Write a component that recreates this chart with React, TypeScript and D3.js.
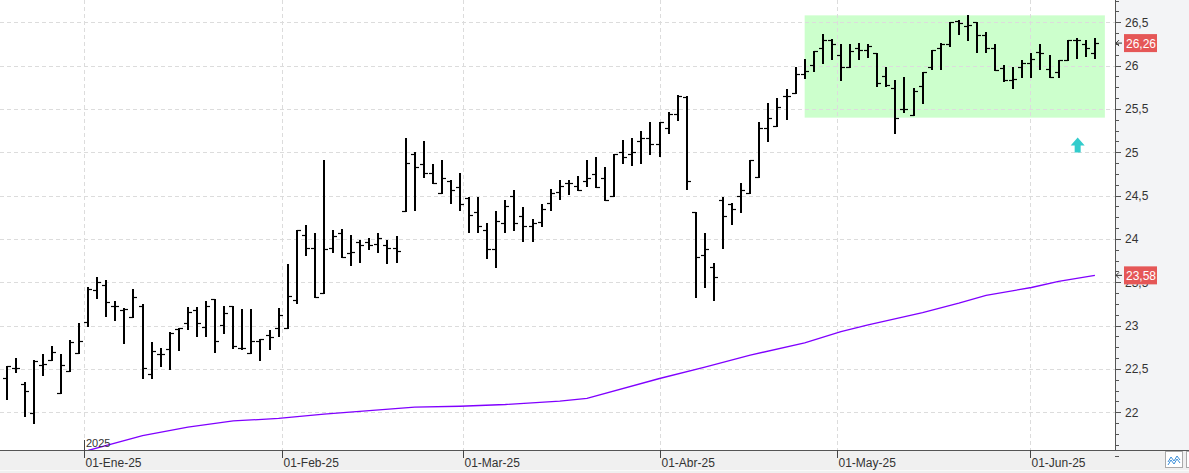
import React from 'react'
import * as d3 from 'd3'

const [WIDTH, HEIGHT] = [1189, 473]
const plotRight = 1115
const plotBottom = 450

// daily bars, mid-Dec 2024 .. mid-Jun 2025
const opens = [
  22.40, 22.51, 22.33, 21.99, 22.55, 22.60, 22.22, 22.48, 22.68, 23.04,
  23.41, 23.47, 23.23, 23.18, 23.10, 23.23, 22.44, 22.67, 22.73, 22.96,
  23.03, 23.18, 22.98, 23.31, 23.01, 23.23, 22.74, 22.68, 22.82, 22.89,
  22.97, 22.97, 23.30, 24.05, 23.89, 23.38, 23.90, 24.07, 23.84, 23.96,
  23.96, 23.94, 23.93, 23.90, 24.32, 24.98, 24.87, 24.76, 24.53, 24.67,
  24.60, 24.47, 24.31, 24.10, 23.88, 24.18, 24.50, 24.26, 24.15, 24.20,
  24.42, 24.54, 24.64, 24.61, 24.67, 24.75, 24.70, 24.50, 25.00, 24.98,
  25.13, 25.16, 25.10, 25.28, 25.44, 25.64, 24.31, 23.82, 23.68, 24.45,
  24.40, 24.50, 24.53, 24.72, 25.28, 25.30, 25.65, 25.68, 25.90, 26.01,
  26.20, 26.30, 26.12, 25.98, 26.20, 26.18, 26.14, 25.88, 25.74, 25.50,
  25.43, 25.76, 25.98, 26.20, 26.25, 26.51, 26.46, 26.50, 26.35, 26.20,
  25.97, 25.84, 25.98, 26.03, 26.16, 25.96, 25.93, 26.07, 26.30, 26.25,
  26.14,
]
const highs = [
  22.53, 22.63, 22.35, 22.60, 22.67, 22.77, 22.67, 22.84, 23.03, 23.44,
  23.56, 23.53, 23.28, 23.20, 23.42, 23.25, 22.81, 22.74, 22.93, 22.97,
  23.21, 23.21, 23.29, 23.31, 23.23, 23.23, 23.19, 23.19, 22.85, 22.95,
  23.20, 23.71, 24.10, 24.16, 24.07, 24.91, 24.10, 24.11, 24.05, 23.99,
  24.01, 24.07, 23.99, 24.04, 25.16, 25.00, 25.13, 24.87, 24.91, 24.68,
  24.76, 24.49, 24.49, 24.18, 24.32, 24.45, 24.57, 24.37, 24.23, 24.40,
  24.58, 24.68, 24.68, 24.73, 24.91, 24.94, 24.83, 24.98, 25.14, 25.16,
  25.25, 25.35, 25.35, 25.46, 25.66, 25.65, 24.31, 24.07, 23.72, 24.48,
  24.42, 24.64, 24.91, 25.35, 25.57, 25.63, 25.73, 25.98, 26.08, 26.17,
  26.37, 26.31, 26.25, 26.25, 26.26, 26.25, 26.14, 25.98, 25.84, 25.87,
  25.74, 25.93, 26.18, 26.26, 26.50, 26.53, 26.58, 26.50, 26.39, 26.25,
  26.01, 25.98, 26.07, 26.15, 26.25, 26.12, 26.07, 26.30, 26.32, 26.30,
  26.32,
]
const lows = [
  22.15, 22.46, 21.96, 21.88, 22.43, 22.60, 22.22, 22.48, 22.68, 23.00,
  23.32, 23.11, 23.06, 22.80, 23.10, 22.40, 22.40, 22.54, 22.50, 22.72,
  22.96, 22.88, 22.88, 22.70, 22.92, 22.74, 22.73, 22.68, 22.60, 22.73,
  22.88, 22.97, 23.26, 23.82, 23.33, 23.38, 23.85, 23.79, 23.70, 23.74,
  23.88, 23.85, 23.72, 23.74, 24.32, 24.33, 24.72, 24.64, 24.53, 24.42,
  24.34, 24.08, 24.08, 23.78, 23.68, 24.08, 24.10, 23.98, 23.98, 24.15,
  24.34, 24.46, 24.52, 24.57, 24.61, 24.60, 24.45, 24.50, 24.88, 24.85,
  24.88, 24.98, 24.96, 25.22, 25.37, 24.58, 23.33, 23.44, 23.30, 23.90,
  24.17, 24.31, 24.53, 24.72, 25.13, 25.30, 25.38, 25.68, 25.86, 25.94,
  26.03, 26.08, 25.84, 25.98, 26.08, 26.10, 25.76, 25.76, 25.22, 25.46,
  25.43, 25.57, 25.96, 25.96, 26.23, 26.36, 26.30, 26.16, 26.16, 25.95,
  25.82, 25.74, 25.87, 25.87, 25.96, 25.87, 25.87, 26.07, 26.09, 26.11,
  26.09,
]
const closes = [
  22.53, 22.51, 22.25, 22.59, 22.56, 22.70, 22.55, 22.81, 22.82, 23.42,
  23.50, 23.27, 23.23, 23.19, 23.33, 22.51, 22.71, 22.67, 22.92, 22.97,
  23.16, 23.03, 23.23, 22.82, 23.15, 22.76, 22.74, 22.82, 22.85, 22.87,
  23.12, 23.34, 24.10, 23.90, 23.33, 23.88, 24.04, 23.79, 23.85, 23.93,
  23.93, 24.01, 23.90, 23.86, 24.88, 24.83, 24.76, 24.64, 24.70, 24.56,
  24.40, 24.28, 24.15, 23.88, 24.21, 24.38, 24.18, 24.15, 24.18, 24.35,
  24.53, 24.61, 24.64, 24.57, 24.70, 24.60, 24.45, 24.98, 24.94, 25.00,
  25.16, 25.10, 25.35, 25.44, 25.65, 24.67, 23.79, 23.88, 23.56, 24.26,
  24.35, 24.57, 24.91, 25.28, 25.40, 25.52, 25.65, 25.90, 25.94, 26.17,
  26.30, 26.25, 25.98, 26.17, 26.18, 26.23, 25.80, 25.78, 25.40, 25.50,
  25.71, 25.93, 26.18, 26.25, 26.50, 26.49, 26.47, 26.35, 26.20, 25.95,
  25.84, 25.85, 26.03, 26.08, 26.15, 25.87, 26.07, 26.30, 26.30, 26.20,
  26.26,
]

// long moving average, read at some bars
const maBars = [9, 15, 20, 25, 30, 35, 40, 45, 50, 55, 61, 64, 72, 77, 82, 88, 92, 95, 101, 105, 108, 113, 116, 120]
const maValues = [21.56, 21.73, 21.83, 21.90, 21.93, 21.98, 22.02, 22.06, 22.07, 22.09, 22.13, 22.16, 22.39, 22.52, 22.66, 22.80, 22.93, 23.01, 23.15, 23.26, 23.35, 23.44, 23.51, 23.58]

const monthLabels = ['01-Ene-25', '01-Feb-25', '01-Mar-25', '01-Abr-25', '01-May-25', '01-Jun-25']
const monthAt = [8.5, 30.4, 50.3, 72, 91.6, 112.8]

const yTicks = [22, 22.5, 23, 23.5, 24, 24.5, 25, 25.5, 26, 26.5]
const lastPrice = 26.26
const lastMa = 23.58

const zoneFrom = 88
const zoneTo = 121.1
const zoneTop = 26.58
const zoneBottom = 25.4

const signalBar = 118.1
const signalTop = 25.17

const fmt = (v: number) => String(v).replace('.', ',')

export default function App() {
  const x = d3.scaleLinear().domain([0, 120]).range([6.5, 1094.9])
  const y = d3.scaleLinear().domain([22, 26.5]).range([412.3, 22.3])

  const minor = d3.range(21.5, 26.8, 0.125)
  const maLine = d3.line<number>()
    .x((d, i) => x(maBars[i]))
    .y(d => y(d))(maValues)

  const font = '"Liberation Sans", Arial, sans-serif'

  const bars = opens.map((o, i) => {
    const cx = Math.round(x(i))
    const yo = Math.round(y(o)) + 0.5
    const yc = Math.round(y(closes[i])) + 0.5
    return (
      <g key={i}>
        <line x1={cx} x2={cx} y1={Math.round(y(highs[i]))} y2={Math.round(y(lows[i])) + 1} stroke="#000" strokeWidth={2} />
        <line x1={cx - 4} x2={cx} y1={yo} y2={yo} stroke="#000" strokeWidth={1.2} />
        <line x1={cx} x2={cx + 4} y1={yc} y2={yc} stroke="#000" strokeWidth={1.2} />
      </g>
    )
  })

  const sx = x(signalBar)
  const sy = y(signalTop)
  const arrow = `M${sx},${sy} L${sx + 7},${sy + 8} L${sx + 3},${sy + 8} L${sx + 3},${sy + 15} L${sx - 3},${sy + 15} L${sx - 3},${sy + 8} L${sx - 7},${sy + 8} Z`

  const priceTag = (v: number, key: string) => {
    const ty = y(v)
    return (
      <g key={key}>
        <path d={`M1116,${ty} L1122,${ty} M1116,${ty} L1119,${ty - 3} M1116,${ty} L1119,${ty + 3}`} stroke="#333" strokeWidth={1} fill="none" />
        <rect x={1124} y={ty - 9} width={33} height={18} fill="#e55757" />
        <text x={1126} y={ty + 4.5} fill="#fff" fontSize={12} fontFamily={font}>{fmt(v)}</text>
      </g>
    )
  }

  return (
    <svg width={WIDTH} height={HEIGHT} style={{ position: 'absolute', left: 0, top: 0, background: '#fff' }}>
      <defs>
        <clipPath id="plot">
          <rect x={0} y={0} width={plotRight} height={plotBottom} />
        </clipPath>
      </defs>
      <rect x={plotRight} y={0} width={WIDTH - plotRight} height={plotBottom} fill="#f3f4f6" />
      <rect x={0} y={plotBottom} width={WIDTH} height={HEIGHT - plotBottom} fill="#f0f0f0" />
      <line x1={0} x2={WIDTH} y1={470.5} y2={470.5} stroke="#fafafa" />

      <g clipPath="url(#plot)">
        <rect x={x(zoneFrom)} y={y(zoneTop)} width={x(zoneTo) - x(zoneFrom)} height={y(zoneBottom) - y(zoneTop)} fill="#ccffcc" />
        {yTicks.map(t => (
          <line key={t} x1={0} x2={plotRight} y1={Math.round(y(t)) + 0.5} y2={Math.round(y(t)) + 0.5} stroke="#dcdcdc" strokeDasharray="4,3" />
        ))}
        {monthAt.map(m => (
          <line key={m} x1={Math.round(x(m)) + 0.5} x2={Math.round(x(m)) + 0.5} y1={0} y2={plotBottom} stroke="#dcdcdc" strokeDasharray="4,3" />
        ))}
        {bars}
        <path d={maLine ?? ''} fill="none" stroke="#8000ff" strokeWidth={1.3} />
        <path d={arrow} fill="#33cccc" />
      </g>

      {/* year marker */}
      <line x1={Math.round(x(monthAt[0])) + 0.5} x2={Math.round(x(monthAt[0])) + 0.5} y1={440} y2={plotBottom} stroke="#444" />
      <text x={Math.round(x(monthAt[0])) + 2} y={447} fontSize={11} fill="#333" fontFamily={font}>2025</text>

      {/* axes */}
      <line x1={0} x2={WIDTH} y1={plotBottom + 0.5} y2={plotBottom + 0.5} stroke="#555" />
      <line x1={plotRight + 0.5} x2={plotRight + 0.5} y1={0} y2={plotBottom} stroke="#555" />
      {monthLabels.map((label, i) => {
        const mx = Math.round(x(monthAt[i])) + 0.5
        return (
          <g key={label}>
            <line x1={mx} x2={mx} y1={plotBottom} y2={458} stroke="#444" />
            <text x={mx + 1} y={467} fontSize={12} fill="#333" fontFamily={font}>{label}</text>
          </g>
        )
      })}
      {minor.map(t => (
        <line key={t} x1={plotRight} x2={plotRight + 4} y1={Math.round(y(t)) + 0.5} y2={Math.round(y(t)) + 0.5} stroke="#555" />
      ))}
      {yTicks.map(t => (
        <g key={t}>
          <line x1={plotRight} x2={plotRight + 6} y1={Math.round(y(t)) + 0.5} y2={Math.round(y(t)) + 0.5} stroke="#555" />
          <text x={1125} y={y(t) + 4.5} fontSize={12} fill="#333" fontFamily={font}>{fmt(t)}</text>
        </g>
      ))}
      {priceTag(lastMa, 'ma')}
      {priceTag(lastPrice, 'price')}

      {/* corner buttons */}
      <rect x={1165.5} y={451.5} width={17} height={16} fill="#fff" stroke="#aaa" />
      <path d="M1168,462 L1171,457 L1174,461 L1177,456 L1180,460 M1168,465 L1171,460 L1174,464 L1177,459 L1180,463" stroke="#3b8fd9" fill="none" strokeWidth={1} />
      <rect x={1186.5} y={451.5} width={6} height={16} fill="#fff" stroke="#aaa" />
    </svg>
  )
}
